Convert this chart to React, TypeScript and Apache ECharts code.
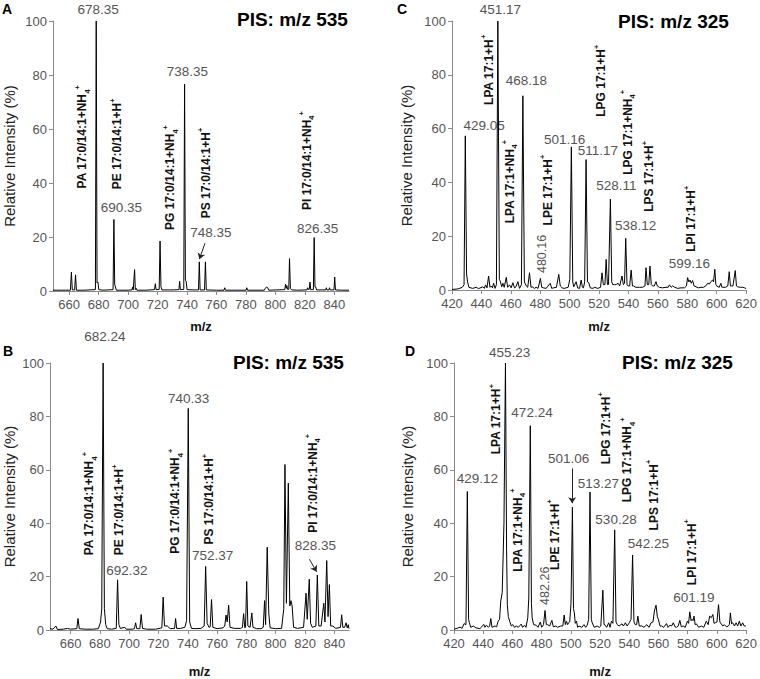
import React, { useEffect, useRef } from "react";
import * as echarts from "echarts";

const FONT = "'Liberation Sans', Arial, Helvetica, sans-serif";

type Pt = [number, number];

// ---------- spectra (m/z, relative intensity %) ----------
const spectrumA: Pt[] = [
  [649, 0.3], [655, 0.3], [660.8, 0.3], [661.5, 7], [662.1, 0.4], [663.7, 0.4], [664.3, 6], [664.9, 0.3],
  [670, 0.3], [677.8, 0.5], [678.35, 100], [678.9, 3], [679.5, 3.3], [680.1, 0.5], [683, 0.3],
  [689.8, 0.5], [690.35, 26.5], [690.9, 2.5], [691.4, 1.5], [692, 0.3], [700, 0.3], [702.6, 0.4],
  [703, 1.5], [703.5, 0.4], [703.9, 0.5], [704.4, 7.9], [704.9, 0.5], [705.5, 1], [706, 0.3], [712, 0.3],
  [717.9, 0.5], [718.5, 2.7], [719, 0.5], [721.1, 0.6], [721.7, 18.5], [722.3, 1.7], [722.9, 0.4],
  [728, 0.4], [731, 0.4], [734.5, 0.5], [735, 3.6], [735.5, 0.5], [737.8, 0.6], [738.35, 76.6],
  [738.9, 4], [739.4, 3.7], [740, 0.5], [745, 0.4], [747.8, 0.4], [748.35, 10.8], [748.9, 0.4],
  [751.9, 0.4], [752.5, 10.8], [753.1, 0.4], [760, 0.3], [765.1, 0.3], [765.6, 1.2], [766.1, 0.3],
  [780.1, 0.3], [780.6, 1.2], [781.1, 0.3], [792.5, 0.3], [793.2, 1], [794, 1.5], [794.8, 1.2],
  [795.5, 0.3], [806.4, 0.5], [806.9, 2.5], [807.4, 1], [807.8, 2], [808.3, 0.6], [809.1, 0.6],
  [809.6, 12], [810.2, 1], [811, 0.4], [815, 0.3], [821.5, 0.4], [821.9, 1.2], [822.4, 0.6], [823, 0.6],
  [823.5, 3.3], [824, 0.5], [825.8, 0.5], [826.35, 19.8], [826.9, 1.5], [827.4, 1.5], [828, 0.4],
  [834.2, 0.4], [834.6, 1.2], [835, 0.4], [836.4, 0.4], [836.8, 1.2], [837.2, 0.4], [839.8, 0.4],
  [840.3, 5.2], [840.8, 0.4], [845, 0.3], [850, 0.3],
];

const spectrumB: Pt[] = [
  [646, 0.5], [648, 0.3], [650, 1.5], [651, 0.2], [655, 0.3], [658, 0.6], [660, 0.3], [664.3, 0.5],
  [665.1, 4.3], [666, 0.5], [670, 0.3], [675, 0.3], [679, 0.5], [680.5, 3], [681.3, 7.9], [682.24, 100],
  [683.1, 8], [684, 2], [685, 0.5], [688, 0.3], [691.2, 0.6], [692.1, 18.8], [693, 2], [694, 0.6],
  [697, 1], [698, 0.3], [702, 0.3], [703.6, 0.5], [704.4, 2.7], [705.2, 0.5], [707.3, 0.5], [708.2, 5.8],
  [709.1, 0.6], [712, 0.3], [718, 0.3], [722.3, 0.8], [723.2, 12.3], [724.1, 1.5], [726, 1.5], [728, 0.5],
  [731, 0.6], [731.7, 4.3], [732.4, 0.6], [735, 0.6], [738, 1], [739.2, 3.5], [740.33, 83], [741.3, 3],
  [742.5, 0.6], [745, 0.5], [749, 0.6], [751.2, 1.5], [752.2, 23.8], [753.2, 2.5], [754.5, 1],
  [755.3, 1.2], [756.2, 11.4], [757.1, 1], [760, 0.5], [764, 0.8], [765.2, 1.5], [766.1, 5.6],
  [766.9, 3], [767.9, 9.3], [768.8, 1], [772, 0.6], [776, 0.6], [777.3, 1], [778.1, 6.1], [778.9, 0.8],
  [779.4, 1], [780.2, 18.2], [781, 1.5], [782.5, 1], [783.7, 6.4], [784.5, 1], [787, 0.5], [790, 0.5],
  [791.5, 1], [792.4, 11], [793.1, 2], [794.2, 31], [795.3, 6], [796.2, 0.8], [800, 0.5], [804, 0.6],
  [805.5, 8], [806.3, 62], [807.3, 10], [808.6, 55], [809.6, 9], [810.4, 11], [811.2, 9], [812.2, 1],
  [815, 0.6], [819, 1], [820.7, 13.8], [821.5, 4], [822.9, 19], [823.8, 2.5], [825, 1], [827.4, 1.5],
  [828.4, 20.6], [829.4, 1.5], [831, 1.5], [832.8, 10], [833.6, 3], [834.8, 26], [835.7, 5],
  [836.6, 17], [837.5, 1.5], [839, 1.5], [841, 0.6], [844.2, 1], [845, 5.7], [845.8, 1], [847, 1],
  [848, 2.7], [848.8, 0.8], [849.5, 2], [850, 0.5],
];

const spectrumC: Pt[] = [
  [420, 0.2], [424, 0.4], [427, 1], [428.2, 2], [429.05, 57.3], [429.9, 6], [430.6, 3], [431.5, 1],
  [434, 0.6], [436.5, 1], [438, 0.5], [441, 1.2], [442, 0.6], [442.8, 1.9], [443.8, 0.8], [444.9, 5.2],
  [445.8, 1], [446.7, 1.5], [447.5, 0.8], [448.3, 2.5], [449.3, 0.6], [450.2, 2], [451.17, 100],
  [452.2, 4], [453, 3], [453.8, 1.2], [454.6, 2.5], [455.5, 1], [456.9, 4.7], [457.8, 1], [459.1, 1.9],
  [460.2, 0.8], [461.4, 2.7], [462.5, 0.8], [463.5, 1.2], [464.8, 3.1], [465.9, 0.6], [467.2, 2],
  [468.18, 72.2], [469.2, 3], [470.5, 1.5], [471.5, 1], [472.7, 6.4], [473.7, 1], [474.5, 1.2],
  [476, 0.6], [477.2, 1], [478.5, 0.6], [480.1, 4.3], [481, 1], [482.2, 0.8], [484, 0.6], [486.8, 2.5],
  [487.8, 0.6], [489, 0.8], [491, 1], [492.6, 5.8], [493.6, 1.5], [494.9, 0.8], [496.2, 0.6],
  [497.6, 0.8], [499, 1], [500.1, 4], [501.16, 53.2], [502.1, 3], [502.8, 1.2], [504.4, 3.1],
  [505.4, 0.8], [506.7, 0.6], [507.8, 3.7], [508.7, 1], [509.4, 0.8], [510.2, 3], [511.17, 48.5],
  [512.1, 3], [513, 2.7], [514, 0.8], [515.7, 0.6], [517, 1], [519.1, 0.6], [521, 1], [522, 6.4],
  [522.9, 2], [524, 2], [524.8, 11.4], [525.7, 2], [526.4, 2], [527.7, 33.8], [528.6, 3], [529.3, 2],
  [530.5, 2], [531.6, 2], [532.9, 2.5], [534, 1.5], [535.6, 5.2], [536.5, 2], [537.3, 2.5],
  [538.12, 19.2], [539, 2], [539.7, 1.5], [540.8, 1.5], [541.8, 7.4], [542.7, 1.5], [543.3, 1.5],
  [545, 1], [547.4, 1], [549.5, 1], [551.2, 1.5], [551.9, 8.3], [552.8, 2], [553.8, 2], [554.6, 8.9],
  [555.5, 2], [556.4, 1.5], [557.5, 1.5], [558.7, 3.1], [559.6, 1.5], [561, 1], [563, 0.8], [565.5, 1],
  [567, 1], [567.8, 1.9], [569, 1], [570, 1.5], [571.5, 1], [573.4, 0.6], [575.7, 0.8], [578, 0.8],
  [579.4, 1.5], [580.2, 4.6], [581, 3], [581.8, 3.7], [582.7, 2.5], [583.6, 3.5], [584.6, 1.5],
  [585.9, 1.2], [587.5, 0.8], [589.3, 1], [591, 1], [592.5, 1.5], [593.8, 2.5], [595, 2.2], [596, 3.1],
  [597.2, 3.7], [597.8, 3], [598.7, 7.7], [599.4, 2], [599.9, 1.5], [601.7, 1], [602.8, 2.5],
  [603.5, 1], [604, 1], [606, 1], [607.5, 1.5], [608.5, 6.8], [609.3, 1.5], [609.9, 1.5], [611, 1.5],
  [612.6, 7.2], [613.4, 1.5], [614.2, 1.2], [616, 1], [617.6, 1], [619, 0.8], [620, 0.5],
];

const spectrumD: Pt[] = [
  [420, 0.3], [422, 0.6], [424.1, 1.1], [425.5, 0.6], [426.9, 2.4], [428.2, 2], [429.12, 51.9],
  [430, 4], [430.5, 2.7], [431.5, 1], [433.2, 1.5], [435, 0.8], [437.7, 0.5], [439, 1.2], [440.4, 2.1],
  [441.2, 1], [442.2, 1.8], [443.5, 1], [444.4, 1.5], [445.2, 4.3], [446, 1], [446.8, 1.2], [448, 1.5],
  [449.2, 1.2], [450.2, 3.3], [451.2, 4], [452, 10.8], [453, 14], [454.2, 40], [455.23, 100],
  [456, 30], [456.5, 9.5], [457.2, 5], [458.1, 3.3], [459.2, 1.5], [460.3, 2], [461.5, 1],
  [462.6, 1.5], [464, 1], [466, 2.2], [467, 1], [468.3, 1.8], [469.3, 1], [470.5, 4.6], [471.2, 12],
  [472.24, 76.5], [473, 10], [473.5, 4.6], [474.5, 2], [476.2, 1.8], [477.5, 1], [479.1, 3], [480, 1],
  [481.3, 2], [482.3, 7.3], [483.2, 2], [484, 2], [485.5, 1.5], [487, 3.6], [488, 1.2], [489.7, 1.5],
  [491, 1], [493.1, 1.5], [494.5, 1.5], [495.4, 5.6], [496.2, 2], [497, 3.3], [497.8, 2], [498.4, 2.7],
  [499.2, 3], [500.1, 10], [501.06, 46], [501.8, 8], [502.4, 6.4], [503, 2.5], [503.8, 3.3],
  [504.7, 1], [505.6, 1.5], [507.5, 1], [509, 2], [510.2, 1], [511.2, 1.8], [512.2, 4], [513.1, 51.7],
  [514, 4], [514.6, 2.7], [516, 1], [518, 1.5], [519.5, 1], [520.5, 1.5], [521.9, 14.9], [522.7, 2],
  [523.2, 2], [524.5, 1], [525.9, 2.7], [526.8, 1], [527.8, 3.3], [528.8, 2.5], [530, 37.5], [530.9, 3],
  [531.8, 2], [533, 1.5], [535, 2.3], [536, 1.5], [537.3, 2.7], [538.5, 1.5], [540, 2.7], [541.2, 4],
  [542.25, 28.1], [543.2, 3], [544.1, 2], [545, 2], [545.9, 5.2], [546.8, 1.5], [548.6, 1.5], [550, 1],
  [552, 2], [553.5, 1], [554.9, 2.7], [556.2, 3], [557.2, 7.1], [558.3, 9.3], [559.2, 5], [559.9, 4],
  [561, 1.5], [562.1, 1.5], [563.5, 1], [565.5, 2.4], [566.5, 1], [567.8, 1.8], [569, 1.5],
  [570.1, 2.7], [571.3, 1.2], [572.3, 1], [573.5, 1.5], [574.6, 3.6], [575.6, 1.2], [576.9, 1.5],
  [578.3, 1], [579.8, 3.3], [580.6, 2.5], [581.4, 6.8], [582.3, 3.5], [583, 4], [583.6, 3.5],
  [584.3, 5.2], [585.1, 2], [585.9, 2.3], [587.5, 1], [589.3, 1.5], [591, 1], [592.7, 3.3], [594, 2],
  [595, 5.2], [596.1, 4.6], [597.2, 5.8], [598, 2.5], [598.8, 2.7], [600, 3], [601.1, 9.5], [602, 3],
  [602.9, 2.3], [604, 1.5], [605.1, 2], [606.5, 1.2], [607.8, 1.5], [608.5, 2], [609.2, 6.4],
  [610, 2.3], [610.8, 2.7], [612, 1.5], [613.1, 2.7], [614.2, 1.5], [615.3, 3.3], [616.4, 1.5],
  [617.6, 2.7], [618.7, 1.5], [619.8, 1.5],
];

// ---------- axis tick values ----------
const xTicksAB = [660, 680, 700, 720, 740, 760, 780, 800, 820, 840];
const xTicksCD = [420, 440, 460, 480, 500, 520, 540, 560, 580, 600, 620];

// ---------- texts ----------
const panelLetters = ["A", "B", "C", "D"];
const panelTitles = ["PIS: m/z 535", "PIS: m/z 535", "PIS: m/z 325", "PIS: m/z 325"];
const xAxisTitle = "m/z";
const yAxisTitle = "Relative Intensity (%)";

// peak m/z labels: [text, m/z, intensity] (label centre)
type PeakLabel = [string, number, number];
const peakLabelsA: PeakLabel[] = [
  ["678.35", 679.6, 104.3], ["690.35", 695.4, 30.8], ["738.35", 740.3, 81.3],
  ["748.35", 756.2, 21.7], ["826.35", 828.7, 23.0],
];
const peakLabelsB: PeakLabel[] = [
  ["682.24", 683.5, 109.8], ["740.33", 740.6, 86.7], ["692.32", 698.4, 22.3],
  ["752.37", 756.9, 27.8], ["828.35", 827.1, 31.5],
];
const peakLabelsC: PeakLabel[] = [
  ["451.17", 452.9, 104.3], ["468.18", 470.6, 77.8], ["429.05", 441.8, 61], ["501.16", 496.6, 56.1],
  ["511.17", 519.2, 51.7], ["528.11", 531.7, 38.7], ["538.12", 544.9, 23.9], ["599.16", 581.4, 9.7],
];
const peakLabelsD: PeakLabel[] = [
  ["455.23", 458.1, 103.9], ["472.24", 473.4, 81.6], ["429.12", 436, 56.8], ["501.06", 498.4, 64.2],
  ["513.27", 518.8, 54.9], ["530.28", 530.9, 41.3], ["542.25", 553, 32.3], ["601.19", 584.2, 12.2],
];
// vertical peak labels: [text, m/z, intensity] (text start)
const verticalPeakLabelsC: PeakLabel[] = [["480.16", 481, 6.3]];
const verticalPeakLabelsD: PeakLabel[] = [["482.26", 482.3, 9.4]];

// lipid assignments: [name, adduct, m/z, intensity] (text start)
type Assign = [string, string, number, number];
const assignA: Assign[] = [
  ["PA 17:0/14:1+", "NH4", 668.7, 38.0], ["PE 17:0/14:1+", "H", 692.7, 37.7],
  ["PG 17:0/14:1+", "NH4", 728.5, 22.6], ["PS 17:0/14:1+", "H", 752.7, 26.9],
  ["PI 17:0/14:1+", "NH4", 821.3, 30],
];
const assignB: Assign[] = [
  ["PA 17:0/14:1+", "NH4", 672.8, 28], ["PE 17:0/14:1+", "H", 693.3, 28],
  ["PG 17:0/14:1+", "NH4", 731.3, 28.6], ["PS 17:0/14:1+", "H", 754.5, 32],
  ["PI 17:0/14:1+", "NH4", 825.2, 36.4],
];
const assignC: Assign[] = [
  ["LPA 17:1+", "H", 445.1, 68.8], ["LPA 17:1+", "NH4", 459.3, 24.8], ["LPE 17:1+", "H", 485, 24],
  ["LPG 17:1+", "H", 521.5, 64.4], ["LPG 17:1+", "NH4", 539.5, 42.8], ["LPS 17:1+", "H", 554.2, 29.1],
  ["LPI 17:1+", "H", 582.5, 14.2],
];
const assignD: Assign[] = [
  ["LPA 17:1+", "H", 449, 65.8], ["LPA 17:1+", "NH4", 463.8, 21.8], ["LPE 17:1+", "H", 489, 22.5],
  ["LPG 17:1+", "H", 523.9, 62.1], ["LPG 17:1+", "NH4", 538.6, 47.8], ["LPS 17:1+", "H", 556.7, 37.3],
  ["LPI 17:1+", "H", 582.8, 16.8],
];

// arrows: [from, to] in data coordinates
type Arrow = [Pt, Pt];
const arrowsA: Arrow[] = [[[752.2, 17.7], [748.4, 11.8]]];
const arrowsB: Arrow[] = [[[823.0, 26.5], [827.9, 21.8]]];
const arrowsC: Arrow[] = [];
const arrowsD: Arrow[] = [[[500.9, 60.5], [500.9, 47.5]]];

// ---------- layout ----------
const panels = [
  {
    spectrum: spectrumA, min: 649, max: 850, ticks: xTicksAB, peaks: peakLabelsA, vpeaks: [] as PeakLabel[],
    assign: assignA, arrows: arrowsA, grid: { left: 53, top: 21, width: 296, height: 270 },
    yNameGap: 36, xNameGap: 29, letter: [2, 9], title: [237, 19.5],
  },
  {
    spectrum: spectrumB, min: 646, max: 850, ticks: xTicksAB, peaks: peakLabelsB, vpeaks: [] as PeakLabel[],
    assign: assignB, arrows: arrowsB, grid: { left: 50, top: 363, width: 299, height: 269 },
    yNameGap: 33, xNameGap: 35, letter: [3, 351], title: [233, 362],
  },
  {
    spectrum: spectrumC, min: 420, max: 620, ticks: xTicksCD, peaks: peakLabelsC, vpeaks: verticalPeakLabelsC,
    assign: assignC, arrows: arrowsC, grid: { left: 452, top: 21, width: 295, height: 269 },
    yNameGap: 38, xNameGap: 30, letter: [397, 9], title: [618, 21.5],
  },
  {
    spectrum: spectrumD, min: 420, max: 620, ticks: xTicksCD, peaks: peakLabelsD, vpeaks: verticalPeakLabelsD,
    assign: assignD, arrows: arrowsD, grid: { left: 454, top: 363, width: 294, height: 269 },
    yNameGap: 39, xNameGap: 35, letter: [405, 351], title: [622, 362],
  },
];

const AXIS_COLOR = "#8a8a8a";
const LABEL_COLOR = "#555";

const richStyles = {
  m: { fill: "#111", fontSize: 12, fontWeight: "bold", fontFamily: FONT, lineHeight: 18 },
  sub: { fill: "#111", fontSize: 7.5, fontWeight: "bold", fontFamily: FONT, verticalAlign: "bottom", lineHeight: 8 },
  sup: { fill: "#111", fontSize: 7.5, fontWeight: "bold", fontFamily: FONT, verticalAlign: "top", lineHeight: 8 },
};

function assignText(name: string, adduct: string): string {
  return adduct === "NH4" ? `{m|${name}NH}{sub|4}{sup|+}` : `{m|${name}H}{sup|+}`;
}

export default function App() {
  const ref = useRef<HTMLDivElement>(null);

  useEffect(() => {
    if (!ref.current) return;
    const chart = echarts.init(ref.current, undefined, { renderer: "svg" });

    const option: any = {
      animation: false,
      backgroundColor: "#fff",
      grid: panels.map((p) => ({ ...p.grid, containLabel: false })),
      xAxis: panels.map((p, i) => ({
        type: "value",
        gridIndex: i,
        min: p.min,
        max: p.max,
        name: xAxisTitle,
        nameLocation: "middle",
        nameGap: p.xNameGap,
        nameTextStyle: { fontFamily: FONT, fontWeight: "bold", fontSize: 13, color: "#111" },
        axisLine: { show: true, onZero: false, lineStyle: { color: AXIS_COLOR, width: 1 } },
        axisTick: { show: true, length: 4, lineStyle: { color: AXIS_COLOR }, customValues: p.ticks },
        axisLabel: { customValues: p.ticks, fontFamily: FONT, fontSize: 13, color: LABEL_COLOR, margin: 7 },
        splitLine: { show: false },
      })),
      yAxis: panels.map((p, i) => ({
        type: "value",
        gridIndex: i,
        min: 0,
        max: 100,
        interval: 20,
        name: yAxisTitle,
        nameLocation: "middle",
        nameGap: p.yNameGap,
        nameTextStyle: { fontFamily: FONT, fontSize: 15, color: "#222" },
        axisLine: { show: true, lineStyle: { color: AXIS_COLOR, width: 1 } },
        axisTick: { show: true, length: 4, lineStyle: { color: AXIS_COLOR } },
        axisLabel: { fontFamily: FONT, fontSize: 13, color: LABEL_COLOR, margin: 6 },
        splitLine: { show: false },
      })),
      series: panels.map((p, i) => ({
        type: "line",
        xAxisIndex: i,
        yAxisIndex: i,
        data: p.spectrum,
        symbol: "none",
        showSymbol: false,
        silent: true,
        clip: false,
        lineStyle: { color: "#000", width: 1 },
        markLine: p.arrows.length
          ? {
              silent: true,
              symbol: ["none", "arrow"],
              symbolSize: 6,
              label: { show: false },
              lineStyle: { color: "#222", width: 1, type: "solid" },
              data: p.arrows.map((a) => [{ coord: a[0] }, { coord: a[1] }]),
            }
          : undefined,
      })),
    };
    chart.setOption(option);

    const graphics: any[] = [];
    panels.forEach((p, i) => {
      const toPx = (x: number, y: number) => chart.convertToPixel({ gridIndex: i }, [x, y]) as number[];
      graphics.push({
        type: "text", x: p.letter[0], y: p.letter[1], silent: true,
        style: { text: panelLetters[i], fontFamily: FONT, fontWeight: "bold", fontSize: 14, fill: "#000", align: "left", verticalAlign: "middle" },
      });
      graphics.push({
        type: "text", x: p.title[0], y: p.title[1], silent: true,
        style: { text: panelTitles[i], fontFamily: FONT, fontWeight: "bold", fontSize: 19, fill: "#000", align: "left", verticalAlign: "middle" },
      });
      p.peaks.forEach(([t, mz, v]) => {
        const [x, y] = toPx(mz, v);
        graphics.push({
          type: "text", x, y, silent: true,
          style: { text: t, fontFamily: FONT, fontSize: 13.5, fill: LABEL_COLOR, align: "center", verticalAlign: "middle" },
        });
      });
      p.vpeaks.forEach(([t, mz, v]) => {
        const [x, y] = toPx(mz, v);
        graphics.push({
          type: "text", x, y, rotation: Math.PI / 2, silent: true,
          style: { text: t, fontFamily: FONT, fontSize: 12.5, fill: LABEL_COLOR, align: "left", verticalAlign: "middle" },
        });
      });
      p.assign.forEach(([name, adduct, mz, v]) => {
        const [x, y] = toPx(mz, v);
        graphics.push({
          type: "text", x, y, rotation: Math.PI / 2, silent: true,
          style: {
            text: assignText(name, adduct), rich: richStyles, fontFamily: FONT, fontSize: 12,
            fontWeight: "bold", fill: "#111", align: "left", verticalAlign: "middle",
          },
        });
      });
    });
    chart.setOption({ graphic: graphics });

    return () => chart.dispose();
  }, []);

  return (
    <div
      ref={ref}
      style={{ position: "fixed", left: 0, top: 0, width: 760, height: 679, background: "#fff" }}
    />
  );
}
